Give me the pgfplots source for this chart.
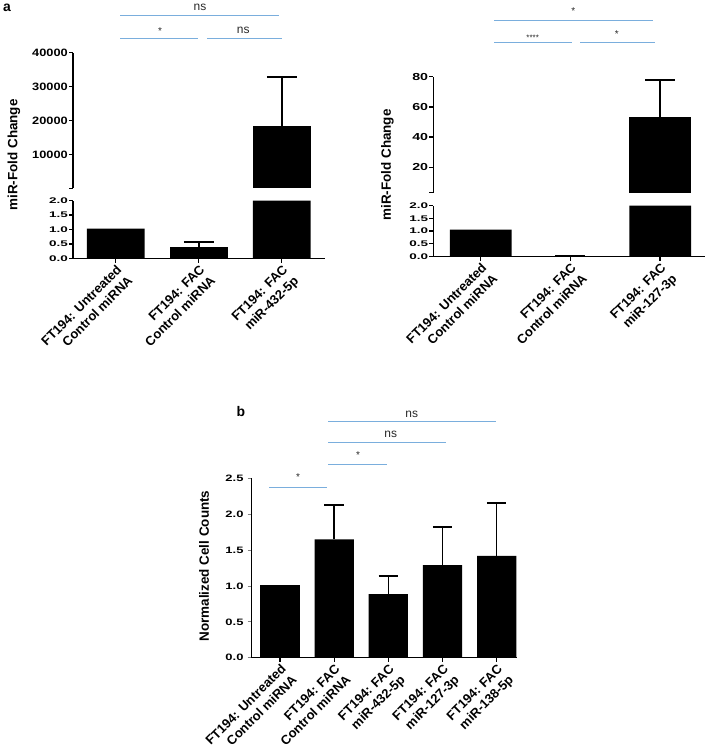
\documentclass[border=0pt]{standalone}
\usepackage{fontspec}
\setmainfont{Liberation Sans}
\newfontfamily\fA[FakeStretch=1.2]{Liberation Sans}
\newfontfamily\fB[FakeStretch=1.4]{Liberation Sans}
\newfontfamily\fC[FakeStretch=1.65]{Liberation Sans}
\usepackage{pgfplots}
\pgfplotsset{compat=1.18}
\definecolor{sig}{RGB}{122,174,221}
\definecolor{sigtxt}{RGB}{40,40,40}

\pgfplotsset{
  base/.style={
    scale only axis,
    axis line style={line width=1.5bp, -},
    tick style={line width=1.3bp, black},
    tick align=outside,
    major tick length=4bp,
    /pgf/number format/assume math mode=true,
    /pgf/number format/1000 sep={},
    scaled y ticks=false,
    clip=true,
  },
  upper/.style={base, axis x line=none, axis y line*=left,
    extra y tick labels={}},
  lower/.style={base, axis x line*=bottom, axis y line*=left,
    ymin=0, ymax=2, ytick={0,0.5,1,1.5,2},
    yticklabel style={font=\fC\bfseries\fontsize{8.2}{9}\selectfont, inner sep=1bp,
      /pgf/number format/.cd, fixed, fixed zerofill, precision=1},
    xtick={0,1,2},
    xticklabel style={rotate=45, anchor=north east, align=right,
      font=\bfseries\fontsize{13}{15.5}\selectfont, inner sep=1bp},
  },
  bars/.style={ybar, bar shift=0pt, fill=black, draw=none},
  errs/.style={error bars/.cd, y dir=plus, y explicit,
    error bar style={line width=1.6bp, black},
    error mark options={rotate=90, mark size=#1, line width=1.6bp, black}},
}

\begin{document}
\begin{tikzpicture}
\path[use as bounding box] (0,0) rectangle (708bp,-752bp);

% ---------------- panel a, left ----------------
\begin{axis}[upper, at={(73bp,-188.3bp)}, anchor=south west,
  width=252bp, height=135.6bp, xmin=-0.514, xmax=2.52,
  ymin=0, ymax=40000, ytick={10000,20000,30000,40000}, extra y ticks={0},
  yticklabel style={font=\fA\bfseries\fontsize{10.7}{12}\selectfont, inner sep=1bp}]
\addplot[bars, bar width=0.694, errs=15bp] coordinates {(2,18466) +- (0,14434)};
\end{axis}
\begin{axis}[lower, at={(73bp,-258.5bp)}, anchor=south west,
  width=252bp, height=58bp, xmin=-0.514, xmax=2.52,
  xticklabels={{FT194: Untreated\\Control miRNA},{FT194: FAC\\Control miRNA},{FT194: FAC\\miR-432-5p}}]
\addplot[bars, bar width=0.694] coordinates {(0,1.03) (2,2.0)};
\addplot[bars, bar width=0.694, errs=15bp] coordinates {(1,0.39) +- (0,0.175)};
\end{axis}

% ---------------- panel a, right ----------------
\begin{axis}[upper, at={(433.3bp,-192.7bp)}, anchor=south west,
  width=271.7bp, height=116bp, xmin=-0.528, xmax=2.50,
  ymin=3.2, ymax=80, ytick={20,40,60,80}, extra y ticks={3.2},
  yticklabel style={font=\fB\bfseries\fontsize{10.2}{12}\selectfont, inner sep=1bp}]
\addplot[bars, bar width=0.688, errs=15bp] coordinates {(2,53) +- (0,24.7)};
\end{axis}
\begin{axis}[lower, at={(433.3bp,-256.5bp)}, anchor=south west,
  width=271.7bp, height=51bp, xmin=-0.528, xmax=2.50,
  xticklabels={{FT194: Untreated\\Control miRNA},{FT194: FAC\\Control miRNA},{FT194: FAC\\miR-127-3p}}]
\addplot[bars, bar width=0.688] coordinates {(0,1.05) (2,2.0)};
\addplot[bars, bar width=0.688, errs=15bp] coordinates {(1,0.01) +- (0,0.03)};
\end{axis}

% ---------------- panel b ----------------
\begin{axis}[base, axis x line*=bottom, axis y line*=left,
  axis line style={line width=1.3bp, -},
  at={(251.7bp,-657.7bp)}, anchor=south west,
  width=265bp, height=179.4bp, xmin=-0.522, xmax=4.37,
  ymin=0, ymax=2.5, ytick={0,0.5,1,1.5,2,2.5},
  ytick style={line width=0.7bp, gray},
  yticklabel style={font=\fB\bfseries\fontsize{9.3}{11}\selectfont, inner sep=2bp, xshift=-2bp,
      /pgf/number format/.cd, fixed, fixed zerofill, precision=1},
  xtick={0,1,2,3,4},
  xticklabels={{FT194: Untreated\\Control miRNA},{FT194: FAC\\Control miRNA},{FT194: FAC\\miR-432-5p},{FT194: FAC\\miR-127-3p},{FT194: FAC\\miR-138-5p}},
  xticklabel style={rotate=45, anchor=north east, align=right,
      font=\bfseries\fontsize{13}{15.5}\selectfont, inner sep=1bp}]
\addplot[bars, bar width=0.725] coordinates {(0,1.02)};
\addplot[bars, bar width=0.725, errs=9.7bp] coordinates {(1,1.65) +- (0,0.48) (2,0.887) +- (0,0.253) (3,1.29) +- (0,0.53) (4,1.42) +- (0,0.74)};
\end{axis}

% ---------------- annotations ----------------
\begin{scope}[x=1bp, y=-1bp]
\node[font=\bfseries\fontsize{14}{16}\selectfont, anchor=center] at (7,8) {a};
\node[font=\bfseries\fontsize{14}{16}\selectfont, anchor=center] at (241,412) {b};
\node[rotate=90, font=\bfseries\fontsize{13.5}{15}\selectfont] at (14,155) {miR-Fold Change};
\node[rotate=90, font=\bfseries\fontsize{13.5}{15}\selectfont] at (387.5,165) {miR-Fold Change};
\node[rotate=90, font=\bfseries\fontsize{13.5}{15}\selectfont] at (204,566) {Normalized Cell Counts};
\begin{scope}[sig, line width=0.9bp]
\draw (120,15) -- (279,15);
\draw (120,38.3) -- (198,38.3);
\draw (207,38.3) -- (282,38.3);
\draw (494,20) -- (653,20);
\draw (494,42.7) -- (572,42.7);
\draw (580,42.7) -- (655,42.7);
\draw (269,487.3) -- (327.3,487.3);
\draw (328.3,464.3) -- (387.3,464.3);
\draw (328,442.3) -- (446,442.3);
\draw (328,421.3) -- (496,421.3);
\end{scope}
\begin{scope}[sigtxt]
\node[font=\fontsize{12}{14}\selectfont] at (200,7) {ns};
\node[font=\fontsize{10}{12}\selectfont] at (160,31) {*};
\node[font=\fontsize{12}{14}\selectfont] at (243.3,30) {ns};
\node[font=\fontsize{10}{12}\selectfont] at (573.3,11) {*};
\node[font=\fontsize{8}{10}\selectfont] at (532.7,38) {****};
\node[font=\fontsize{10}{12}\selectfont] at (616.7,34) {*};
\node[font=\fontsize{10}{12}\selectfont] at (298,477) {*};
\node[font=\fontsize{10}{12}\selectfont] at (358,455) {*};
\node[font=\fontsize{12}{14}\selectfont] at (390.7,434) {ns};
\node[font=\fontsize{12}{14}\selectfont] at (411.7,414) {ns};
\end{scope}
\end{scope}
\end{tikzpicture}
\end{document}
